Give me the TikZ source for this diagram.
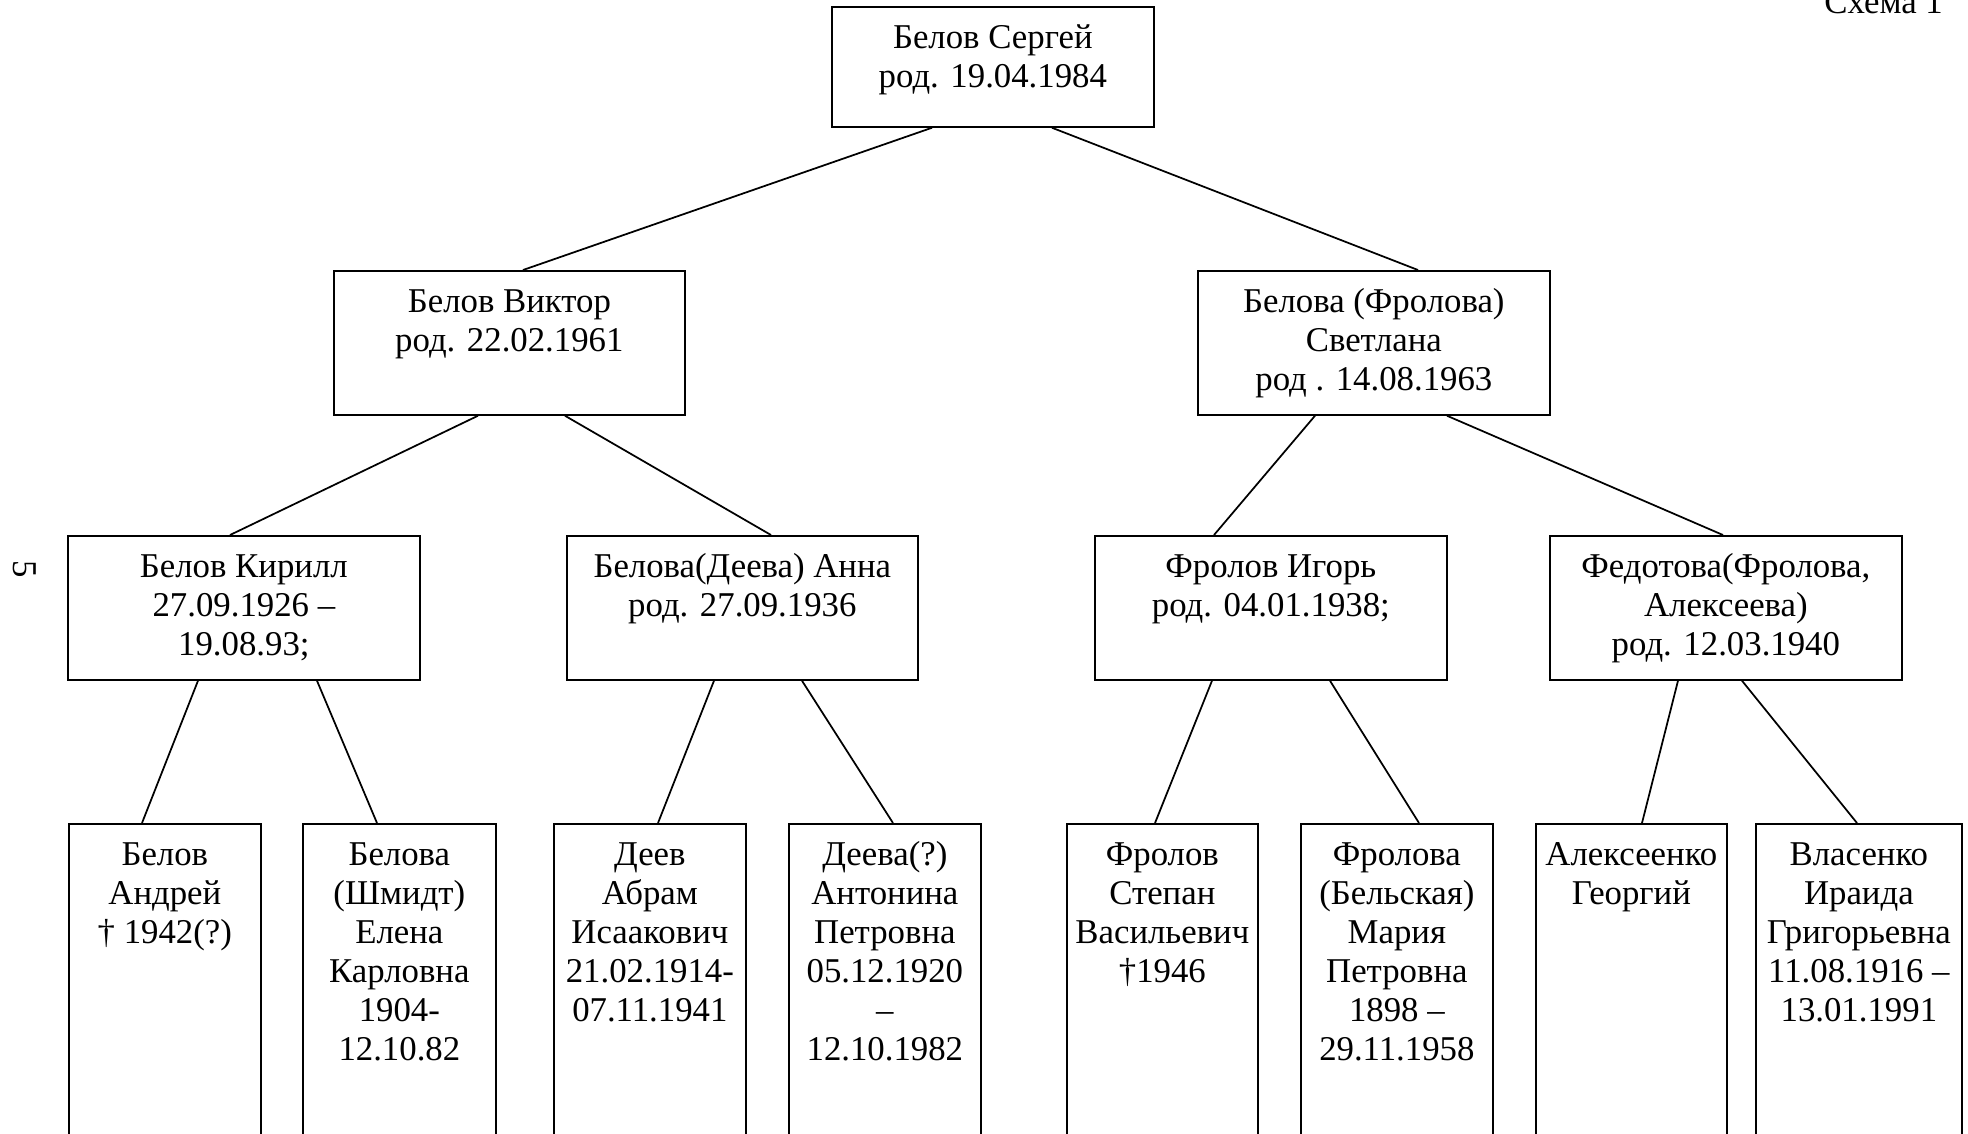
\documentclass[tikz,border=0pt]{standalone}
\usepackage{fontspec}
\setmainfont{Liberation Serif}
\usetikzlibrary{calc}
\newlength\px
\setlength\px{0.345pt}
\newcommand{\card}[3]{\parbox[b][#2\px][t]{#1\px}{\centering\rule{0pt}{14.5pt}#3}}

\begin{document}
\begin{tikzpicture}[x=0.345pt, y=-0.345pt, font=\fontsize{12}{13.45}\selectfont,
    person/.style={draw, line width=0.6pt, inner sep=0pt, anchor=north west},
    link/.style={line width=0.6pt}]
    \useasboundingbox (0,0) rectangle (1968,1133);
    % Family tree of Sergey, four generations
    \node (scheme) [anchor=base east] at (1953,13) {Схема 1};
    \node (pagenum) [rotate=-90] at (25,569) {5};
    \node[person] (sergey) at (831,6) {\card{322}{120}{Белов Сергей\\род. 19.04.1984}};
    \node[person] (viktor) at (333,270) {\card{351}{144}{Белов Виктор\\род. 22.02.1961}};
    \node[person] (svetlana) at (1197,270) {\card{352}{144}{Белова (Фролова)\\Светлана\\род . 14.08.1963}};
    \node[person] (kirill) at (67,535) {\card{352}{144}{Белов Кирилл\\27.09.1926 –\\19.08.93;}};
    \node[person] (anna) at (566,535) {\card{351}{144}{Белова(Деева) Анна\\род. 27.09.1936}};
    \node[person] (igor) at (1094,535) {\card{352}{144}{Фролов Игорь\\род. 04.01.1938;}};
    \node[person] (fedotova) at (1549,535) {\card{352}{144}{Федотова(Фролова,\\Алексеева)\\род. 12.03.1940}};
    % bottom row runs off the page
    \node[person] (andrey) at (68,823) {\card{192}{340}{Белов\\Андрей\\† 1942(?)}};
    \node[person] (elena) at (302,823) {\card{193}{340}{Белова\\(Шмидт)\\Елена\\Карловна\\1904-\\12.10.82}};
    \node[person] (abram) at (553,823) {\card{192}{340}{Деев\\Абрам\\Исаакович\\21.02.1914-\\07.11.1941}};
    \node[person] (antonina) at (788,823) {\card{192}{340}{Деева(?)\\Антонина\\Петровна\\05.12.1920\\–\\12.10.1982}};
    \node[person] (stepan) at (1066,823) {\card{191}{340}{Фролов\\Степан\\Васильевич\\†1946}};
    \node[person] (maria) at (1300,823) {\card{192}{340}{Фролова\\(Бельская)\\Мария\\Петровна\\1898 –\\29.11.1958}};
    \node[person] (georgy) at (1535,823) {\card{191}{340}{Алексеенко\\Георгий}};
    \node[person] (iraida) at (1755,823) {\card{206}{340}{Власенко\\Ираида\\Григорьевна\\11.08.1916 –\\13.01.1991}};
    \draw[link] ($(sergey.south west)+(101,0)$) -- ($(viktor.north west)+(190,0)$);
    \draw[link] ($(sergey.south west)+(221,0)$) -- ($(svetlana.north west)+(221,0)$);
    \draw[link] ($(viktor.south west)+(145,0)$) -- ($(kirill.north west)+(163,0)$);
    \draw[link] ($(viktor.south west)+(232,0)$) -- ($(anna.north west)+(205,0)$);
    \draw[link] ($(svetlana.south west)+(118,0)$) -- ($(igor.north west)+(120,0)$);
    \draw[link] ($(svetlana.south west)+(250,0)$) -- ($(fedotova.north west)+(174,0)$);
    \draw[link] ($(kirill.south west)+(131,0)$) -- ($(andrey.north west)+(74,0)$);
    \draw[link] ($(kirill.south west)+(250,0)$) -- ($(elena.north west)+(75,0)$);
    \draw[link] ($(anna.south west)+(148,0)$) -- ($(abram.north west)+(105,0)$);
    \draw[link] ($(anna.south west)+(236,0)$) -- ($(antonina.north west)+(105,0)$);
    \draw[link] ($(igor.south west)+(118,0)$) -- ($(stepan.north west)+(89,0)$);
    \draw[link] ($(igor.south west)+(236,0)$) -- ($(maria.north west)+(119,0)$);
    \draw[link] ($(fedotova.south west)+(129,0)$) -- ($(georgy.north west)+(107,0)$);
    \draw[link] ($(fedotova.south west)+(193,0)$) -- ($(iraida.north west)+(102,0)$);
\end{tikzpicture}
\end{document}
